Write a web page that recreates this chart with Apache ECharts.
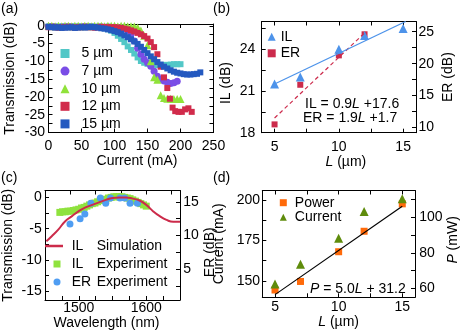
<!DOCTYPE html>
<html>
<head>
<meta charset="utf-8">
<script src="https://cdn.jsdelivr.net/npm/echarts@6/dist/echarts.min.js"></script>
<style>
html, body { margin: 0; padding: 0; background: #fff; }
#chart { width: 469px; height: 333px; }
</style>
</head>
<body>
<div id="chart"></div>
<script>
// (a) transmission vs current, one pair of arrays per length
var cur5 = [0,5,10,15,20,25,30,35,40,45,50,55,60,65,70,75,80,85,90,95,100,105,110,115,120,125,130,135,140,145,150,155,160,165,170,175,180,185,190,195,200];
var tr5 = [-0.2,-0.2,-0.3,-0.2,-0.3,-0.2,-0.3,-0.2,-0.2,-0.3,-0.2,-0.2,-0.3,-0.2,-0.3,-0.4,-0.5,-0.7,-1.0,-1.4,-2.0,-2.8,-3.7,-4.6,-5.8,-6.8,-7.8,-8.9,-9.9,-10.4,-10.7,-10.9,-11.0,-11.1,-11.1,-11.0,-11.0,-10.9,-10.8,-10.8,-10.8];
var cur7 = [0,5,10,15,20,25,30,35,40,45,50,55,60,65,70,75,80,85,90,95,100,105,110,115,120,125,130,135,140,145,150,155,160,165,170,175,180,185,190,195];
var tr7 = [-0.3,-0.2,-0.3,-0.4,-0.3,-0.3,-0.2,-0.3,-0.4,-0.3,-0.3,-0.2,-0.3,-0.3,-0.4,-0.3,-0.3,-0.4,-0.3,-0.4,-0.4,-0.5,-0.5,-0.7,-1.3,-2.4,-4.3,-6.3,-8.0,-9.4,-10.4,-11.4,-12.8,-14.2,-15.0,-15.5,-15.9,-16.2,-16.0,-15.6];
var cur10 = [0,5,10,15,20,25,30,35,40,45,50,55,60,65,70,75,80,85,90,95,100,105,110,115,120,125,130,135,140,145,150,155,160,165,170,175,180,185,190,195,200];
var tr10 = [0,0,-0.1,0,-0.1,0,0,-0.1,0,0,-0.1,0,0,-0.1,0,0,0,-0.1,0,0,0,-0.1,0,0,-0.1,-0.1,-0.2,-0.5,-1.3,-2.8,-5.5,-10.0,-14.5,-15.2,-19.5,-20.3,-20.5,-20.5,-20.6,-20.6,-20.6];
var cur12 = [0,5,10,15,20,25,30,35,40,45,50,55,60,65,70,75,80,85,90,95,100,105,110,115,120,125,130,135,140,145,150,155,160,165,170,175,180,184,188,192,197,202,207,212,217];
var tr12 = [-0.4,-0.3,-0.4,-0.5,-0.4,-0.4,-0.3,-0.4,-0.5,-0.4,-0.4,-0.3,-0.4,-0.4,-0.5,-0.4,-0.3,-0.4,-0.4,-0.4,-0.4,-0.5,-0.6,-0.8,-1.0,-1.3,-1.6,-2.0,-2.4,-2.9,-3.6,-4.6,-6.0,-8.0,-11.5,-14.5,-17.5,-20.5,-23.0,-24.0,-24.2,-24.2,-23.5,-23.2,-24.2];
var cur15 = [0,5,10,15,20,25,30,35,40,45,50,55,60,65,70,75,80,85,90,95,100,105,110,115,120,125,130,135,140,145,150,155,160,165,170,175,180,185,190,195,200,205,210,215,220,225,230];
var tr15 = [-0.3,-0.4,-0.5,-0.4,-0.6,-0.5,-0.5,-0.4,-0.6,-0.5,-0.4,-0.5,-0.4,-0.3,-0.4,-0.5,-0.7,-0.8,-1.0,-1.2,-1.5,-1.8,-2.2,-2.7,-3.2,-3.8,-4.4,-5.1,-5.9,-6.8,-7.7,-8.6,-9.4,-10.2,-10.9,-11.5,-12.0,-12.5,-12.9,-13.2,-13.4,-13.6,-13.7,-13.7,-13.6,-13.5,-13.1];

// (b) IL / ER vs length
var lenB = [5, 7, 10, 12, 15];
var ilB = [21.5, 22.0, 24.0, 25.0, 25.5];
var lenEr = [5, 7, 10, 12];
var erB = [10.5, 16.7, 21.3, 24.6];
var ilFitL = [5, 15.2];
var ilFit = [21.5, 26.0];
var erFitL = [5, 12];
var erFit = [11.5, 24.8];

// (c) spectra
var wlSim = [1452,1460,1470,1480,1490,1500,1510,1520,1530,1540,1550,1560,1570,1580,1590,1600,1610,1620,1630,1640,1650];
var ilSim = [-7.0,-6.2,-5.1,-3.8,-3.0,-2.2,-1.6,-1.2,-0.8,-0.4,-0.1,0.0,0.0,-0.2,-0.5,-1.2,-2.2,-3.0,-3.6,-3.9,-3.9];
var wlIl = [1472,1476,1480,1484,1488,1492,1496,1500,1504,1508,1512,1516,1520,1524,1528,1532,1536,1540,1544,1548,1552,1556,1560,1564,1568,1572,1576,1580,1584,1588,1592,1596,1600];
var ilExp = [-2.4,-2.3,-2.3,-2.2,-2.2,-2.1,-2.0,-1.9,-1.7,-1.6,-1.4,-1.2,-1.0,-0.9,-0.7,-0.5,-0.4,-0.3,-0.1,0.0,0.1,0.1,0.1,0.1,0.0,-0.1,-0.2,-0.4,-0.6,-0.8,-1.0,-1.2,-1.4];
var wlEr = [1487, 1502, 1509, 1518, 1532, 1540, 1547, 1561, 1568, 1576, 1587];
var erExp = [11.7, 12.5, 13.2, 14.8, 15.6, 14.8, 15.6, 15.6, 15.6, 14.8, 14.8];

// (d) power / current vs length
var lenD = [5, 7, 10, 12, 15];
var powerD = [59.1, 63.9, 80.6, 92.1, 107.5];
var currentD = [148.2, 160.4, 176.4, 192.8, 200.6];
var pFitL = [5, 15];
var pFit = [56.5, 106.2];

// tick labels
var xLabA = [0, 50, 100, 150, 200, 250];
var yLabA = [-30, -25, -20, -15, -10, -5, 0];
var yTickA = [-30, -27.5, -25, -22.5, -20, -17.5, -15, -12.5, -10, -7.5, -5, -2.5, 0];
var xLabL = [5, 10, 15];
var xTickL = [5, 7.5, 10, 12.5, 15];
var ilLab = [18, 21, 24];
var ilTick = [18, 19.5, 21, 22.5, 24, 25.5];
var erLab = [10, 15, 20, 25];
var erTick = [10, 12.5, 15, 17.5, 20, 22.5, 25];
var wlLab = [1500, 1600];
var wlTick = [1475, 1500, 1525, 1550, 1575, 1600, 1625];
var wlTopTick = [1487.5, 1525, 1562.5, 1600, 1637.5];
var tcLab = [-15, -10, -5, 0];
var tcTick = [-15, -12.5, -10, -7.5, -5, -2.5, 0];
var erCLab = [5, 10, 15];
var erCTick = [2.5, 5, 7.5, 10, 12.5, 15];
var curLab = [150, 175, 200];
var curTick = [150, 162.5, 175, 187.5, 200];
var pLab = [60, 80, 100];
var pTick = [60, 70, 80, 90, 100, 110];

var ink = '#000';
var font = '"Liberation Sans", Arial, sans-serif';

function pairs(xs, ys) {
  return xs.map(function (x, i) { return [x, ys[i]]; });
}

function axis(grid, pos, min, max, labels, ticks, margin, extra) {
  extra = extra || {};
  var a = {
    type: 'value', gridIndex: grid, position: pos, min: min, max: max,
    axisLine: { show: true, onZero: false, lineStyle: { color: ink, width: 1 } },
    axisTick: { show: true, inside: true, length: 4, lineStyle: { color: ink }, customValues: ticks },
    axisLabel: labels ? {
      show: true, customValues: labels, color: ink, fontSize: 14, fontFamily: font, margin: margin,
      formatter: function (v) { return String(v); }
    } : { show: false },
    splitLine: { show: false },
    nameTextStyle: {
      color: ink, fontSize: 14, fontFamily: font, padding: extra.pad || 0,
      rich: { i: { fontStyle: 'italic', fontSize: 14, fontFamily: font, color: ink } }
    }
  };
  delete extra.pad;
  return Object.assign(a, extra);
}

function dots(name, xs, ys, xi, yi, symbol, size, color) {
  return {
    name: name, type: 'scatter', xAxisIndex: xi, yAxisIndex: yi,
    data: pairs(xs, ys), symbol: symbol, symbolSize: size,
    itemStyle: { color: color, opacity: 1 }
  };
}

function legendText(spacer) {
  return { color: ink, fontSize: 14, fontFamily: font, rich: { s: { width: spacer }, a: { width: 25, fontSize: 14, fontFamily: font, color: ink } } };
}

var chart = echarts.init(document.getElementById('chart'));

chart.setOption({
  animation: false,
  grid: [
    { left: 48.5, top: 24, width: 165, height: 108.5 },
    { left: 261.7, top: 21.5, width: 154.3, height: 111.2 },
    { left: 43.3, top: 190.5, width: 136.7, height: 109.5 },
    { left: 262.3, top: 190.5, width: 152.7, height: 106.8 }
  ],
  xAxis: [
    axis(0, 'bottom', 0, 250, xLabA, xLabA, 7, { name: 'Current (mA)', nameLocation: 'middle', nameGap: 22, pad: [0, 0, 0, 12] }),
    axis(0, 'top', 0, 250, null, xLabA),
    axis(1, 'bottom', 4, 16, xLabL, xTickL, 7, { name: '{i|L} (µm)', nameLocation: 'middle', nameGap: 22, pad: [0, 0, 0, 14] }),
    axis(1, 'top', 4, 16, null, xTickL),
    axis(2, 'bottom', 1450, 1650, wlLab, wlTick, 1, { name: 'Wavelength (nm)', nameLocation: 'middle', nameGap: 11, pad: [0, 12, 0, 0] }),
    axis(2, 'top', 1450, 1650, null, wlTopTick),
    axis(3, 'bottom', 4, 16, xLabL, xTickL, 3, { name: '{i|L} (µm)', nameLocation: 'middle', nameGap: 17 }),
    axis(3, 'top', 4, 16, null, xTickL)
  ],
  yAxis: [
    axis(0, 'left', -30, 0.5, yLabA, yTickA, 3.5, { name: 'Transmission (dB)', nameLocation: 'middle', nameRotate: 90, nameGap: 31.5 }),
    axis(0, 'right', -30, 0.5, null, yTickA),
    axis(1, 'left', 18, 26, ilLab, ilTick, 6.5, { name: 'IL (dB)', nameLocation: 'middle', nameRotate: 90, nameGap: 28.5, pad: [0, 12, 0, 0] }),
    axis(1, 'right', 9.2, 26.6, erLab, erTick, 2.5, { name: 'ER (dB)', nameLocation: 'middle', nameRotate: 90, nameGap: 25.5 }),
    axis(2, 'left', -16.4, 1.1, tcLab, tcTick, 3.3, { name: 'Transmission (dB)', nameLocation: 'middle', nameRotate: 90, nameGap: 30 }),
    axis(2, 'right', 0.4, 16.7, erCLab, erCTick, 3.3, { name: 'ER (dB)', nameLocation: 'middle', nameRotate: 90, nameGap: 14, pad: [0, 14, 0, 0] }),
    axis(3, 'left', 140, 205.7, curLab, curTick, 2.3, { name: 'Current (mA)', nameLocation: 'middle', nameRotate: 90, nameGap: 36.5 }),
    axis(3, 'right', 55, 115, pLab, pTick, 4.3, { name: '{i|P} (mW)', nameLocation: 'middle', nameRotate: 90, nameGap: 28, pad: [0, 0, 0, 8] })
  ],
  legend: [
    {
      data: ['5 µm', '7 µm', '10 µm', '12 µm', '15 µm'], orient: 'vertical',
      left: 60.5, top: 46.5, padding: 0, itemWidth: 9, itemHeight: 9, itemGap: 3.6, selectedMode: false,
      formatter: function (n) { return '{s| }' + n; }, textStyle: legendText(7)
    },
    {
      data: ['IL', 'ER'], orient: 'vertical',
      left: 267.7, top: 29.7, padding: 0, itemWidth: 8, itemHeight: 8, itemGap: 2.6, selectedMode: false,
      textStyle: legendText(0)
    },
    {
      data: [{ name: 'IL Simulation', icon: 'rect' }], orient: 'vertical',
      left: 45, top: 239, padding: 0, itemWidth: 18, itemHeight: 2.5, selectedMode: false,
      formatter: function (n) { var p = n.split(' '); return '{s| }{a|' + p[0] + '}' + p[1]; }, textStyle: legendText(3.7)
    },
    {
      data: ['IL Experiment', 'ER Experiment'], orient: 'vertical',
      left: 53.5, top: 257, padding: 0, itemWidth: 7, itemHeight: 7, itemGap: 4, selectedMode: false,
      formatter: function (n) { var p = n.split(' '); return '{s| }{a|' + p[0] + '}' + p[1]; }, textStyle: legendText(6.2)
    },
    {
      data: ['Power', 'Current'], orient: 'vertical',
      left: 279.8, top: 195.7, padding: 0, itemWidth: 7, itemHeight: 7, itemGap: 0.6, selectedMode: false,
      formatter: function (n) { return '{s| }' + n; }, textStyle: legendText(3)
    }
  ],
  graphic: [
    { type: 'text', left: 1, top: 2, style: { text: '(a)', fill: ink, font: '14px ' + font } },
    { type: 'text', left: 213, top: 2, style: { text: '(b)', fill: ink, font: '14px ' + font } },
    { type: 'text', left: 1, top: 171, style: { text: '(c)', fill: ink, font: '14px ' + font } },
    { type: 'text', left: 213, top: 171, style: { text: '(d)', fill: ink, font: '14px ' + font } },
    {
      type: 'text', left: 305, top: 97,
      style: { text: '{n|IL = 0.9}{i|L}{n| +17.6}', rich: { n: { fontSize: 14, fontFamily: font, fill: ink }, i: { fontSize: 14, fontFamily: font, fontStyle: 'italic', fill: ink } } }
    },
    {
      type: 'text', left: 303, top: 111.5,
      style: { text: '{n|ER = 1.9}{i|L}{n| +1.7}', rich: { n: { fontSize: 14, fontFamily: font, fill: ink }, i: { fontSize: 14, fontFamily: font, fontStyle: 'italic', fill: ink } } }
    },
    {
      type: 'text', left: 310, top: 282,
      style: { text: '{i|P}{n| = 5.0}{i|L}{n| + 31.2}', rich: { n: { fontSize: 14, fontFamily: font, fill: ink }, i: { fontSize: 14, fontFamily: font, fontStyle: 'italic', fill: ink } } }
    }
  ],
  series: [
    dots('5 µm', cur5, tr5, 0, 0, 'rect', 6, '#52c7c7'),
    dots('7 µm', cur7, tr7, 0, 0, 'circle', 7, '#7a4de6'),
    dots('10 µm', cur10, tr10, 0, 0, 'triangle', 8, '#90e23a'),
    dots('12 µm', cur12, tr12, 0, 0, 'rect', 6, '#d12b4b'),
    dots('15 µm', cur15, tr15, 0, 0, 'rect', 6, '#2459c0'),

    { type: 'line', xAxisIndex: 2, yAxisIndex: 3, data: pairs(erFitL, erFit), symbol: 'none', lineStyle: { color: '#cc2b4c', width: 1.2, type: [4, 3] } },
    { type: 'line', xAxisIndex: 2, yAxisIndex: 2, data: pairs(ilFitL, ilFit), symbol: 'none', lineStyle: { color: '#4d93ea', width: 1.2 } },
    dots('ER', lenEr, erB, 2, 3, 'rect', 6, '#cc2b4c'),
    dots('IL', lenB, ilB, 2, 2, 'triangle', 9, '#4d93ea'),

    dots('IL Experiment', wlIl, ilExp, 4, 4, 'rect', 7, '#8fe23e'),
    { name: 'IL Simulation', type: 'line', xAxisIndex: 4, yAxisIndex: 4, data: pairs(wlSim, ilSim), smooth: true, symbol: 'none', lineStyle: { color: '#cc2b4a', width: 2 }, itemStyle: { color: '#cc2b4a' } },
    dots('ER Experiment', wlEr, erExp, 4, 5, 'circle', 7, '#4f9df2'),

    { type: 'line', xAxisIndex: 6, yAxisIndex: 7, data: pairs(pFitL, pFit), symbol: 'none', lineStyle: { color: ink, width: 1.2 } },
    dots('Power', lenD, powerD, 6, 7, 'rect', 7, '#ff6a0a'),
    dots('Current', lenD, currentD, 6, 6, 'triangle', 9, '#5f8c0c')
  ]
});
</script>
</body>
</html>
